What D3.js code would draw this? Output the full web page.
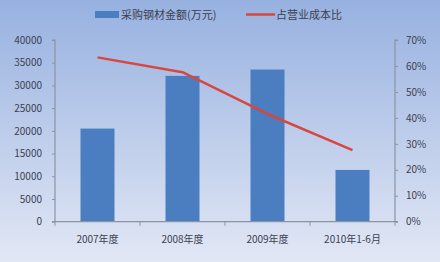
<!DOCTYPE html>
<html>
<head>
<meta charset="utf-8">
<script src="https://cdn.jsdelivr.net/npm/d3@7"></script>
<style>
  html, body { margin: 0; padding: 0; background: #fff; }
  svg { display: block; font-family: "Noto Sans CJK SC", "DejaVu Sans", sans-serif; }
</style>
</head>
<body>
<div id="chart"></div>
<script>
// data
const categories = ["2007年度", "2008年度", "2009年度", "2010年1-6月"];
const steelAmount = [20500, 32100, 33500, 11400];   // 采购钢材金额(万元)
const costShare = [0.633, 0.576, 0.415, 0.276];       // 占营业成本比
const leftTicks = [0, 5000, 10000, 15000, 20000, 25000, 30000, 35000, 40000];
const rightTicks = [0, 0.1, 0.2, 0.3, 0.4, 0.5, 0.6, 0.7];
const seriesNames = ["采购钢材金额(万元)", "占营业成本比"];

const width = 440, height = 262;
const margin = { top: 40, right: 45, bottom: 40, left: 55 };
const barColor = "#4b7ec0";
const lineColor = "#d8473f";
const axisColor = "#8c94a4";
const textColor = "#3c4150";

const svg = d3.select("#chart").append("svg")
    .attr("width", width)
    .attr("height", height);

const defs = svg.append("defs");
const grad = defs.append("linearGradient")
    .attr("id", "bg").attr("x1", 0).attr("y1", 0).attr("x2", 0).attr("y2", 1);
grad.append("stop").attr("offset", "0%").attr("stop-color", "#97b1e0");
grad.append("stop").attr("offset", "100%").attr("stop-color", "#e2e7f5");

svg.append("rect")
    .attr("width", width).attr("height", height)
    .attr("fill", "url(#bg)");

const x = d3.scaleBand()
    .domain(categories)
    .range([margin.left, width - margin.right]);

const y = d3.scaleLinear()
    .domain([0, 40000])
    .range([height - margin.bottom - 0.3, margin.top]);

const y2 = d3.scaleLinear()
    .domain([0, 0.7])
    .range([height - margin.bottom - 0.3, margin.top]);

const barWidth = x.bandwidth() * 0.4;

// bars
svg.append("g")
    .selectAll("rect")
    .data(steelAmount)
    .join("rect")
    .attr("x", (d, i) => x(categories[i]) + (x.bandwidth() - barWidth) / 2)
    .attr("width", barWidth)
    .attr("y", d => y(d))
    .attr("height", d => y(0) - y(d))
    .attr("fill", barColor);

// line
const line = d3.line()
    .x((d, i) => x(categories[i]) + x.bandwidth() / 2)
    .y(d => y2(d));

svg.append("path")
    .datum(costShare)
    .attr("d", line)
    .attr("fill", "none")
    .attr("stroke", lineColor)
    .attr("stroke-width", 2.5)
    .attr("stroke-linejoin", "round");

// axes
const leftAxis = svg.append("g")
    .attr("transform", `translate(${margin.left},0)`)
    .call(d3.axisLeft(y).tickValues(leftTicks).tickFormat(d3.format("d")).tickSize(3).tickPadding(10));

const rightAxis = svg.append("g")
    .attr("transform", `translate(${width - margin.right},0)`)
    .call(d3.axisRight(y2).tickValues(rightTicks).tickFormat(d3.format(".0%")).tickSize(3).tickPadding(8));

const bottomAxis = svg.append("g")
    .attr("transform", `translate(0,${y(0)})`)
    .call(d3.axisBottom(x).tickSize(0).tickPadding(14));

// category boundary ticks
svg.append("g")
    .selectAll("line")
    .data(categories.concat([null]))
    .join("line")
    .attr("x1", (d, i) => margin.left + i * x.bandwidth())
    .attr("x2", (d, i) => margin.left + i * x.bandwidth())
    .attr("y1", y(0))
    .attr("y2", y(0) + 4)
    .attr("stroke", axisColor);

[leftAxis, rightAxis, bottomAxis].forEach(g => {
    g.selectAll(".domain").attr("stroke", axisColor).attr("stroke-width", 1.2);
    g.selectAll(".tick line").attr("stroke", axisColor);
    g.selectAll("text").attr("fill", textColor).style("font-size", "10px")
        .style("font-family", "'Noto Sans CJK SC', 'DejaVu Sans', sans-serif");
});
leftAxis.select(".domain").attr("d", `M-3,${margin.top}H0V${y(0)}H-3`);
rightAxis.select(".domain").attr("d", `M3,${margin.top}H0V${y(0)}H3`);
bottomAxis.select(".domain").attr("d", `M${margin.left},0H${width - margin.right}`);

// legend
const legend = svg.append("g").style("font-size", "11px");
legend.append("rect")
    .attr("x", 95).attr("y", 11).attr("width", 24).attr("height", 7)
    .attr("fill", barColor);
legend.append("text")
    .attr("x", 121).attr("y", 18.5)
    .attr("fill", textColor)
    .text(seriesNames[0]);
legend.append("line")
    .attr("x1", 246).attr("x2", 275).attr("y1", 14.5).attr("y2", 14.5)
    .attr("stroke", lineColor).attr("stroke-width", 2.5);
legend.append("text")
    .attr("x", 276).attr("y", 18.5)
    .attr("fill", textColor)
    .text(seriesNames[1]);
</script>
</body>
</html>
